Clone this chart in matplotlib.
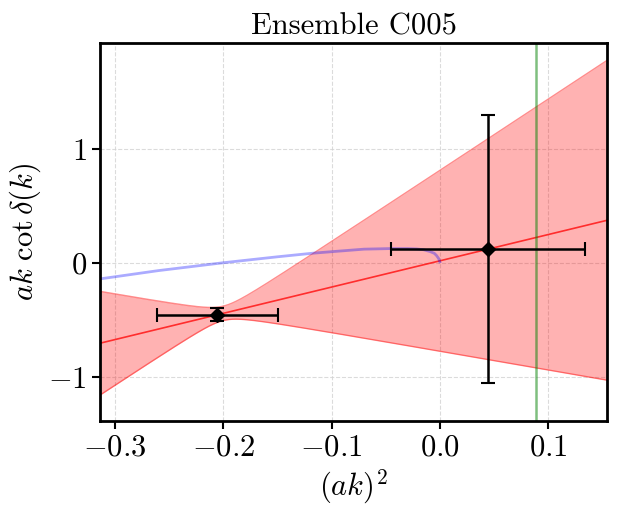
import numpy as np
import matplotlib
matplotlib.use("Agg")
import matplotlib.pyplot as plt

plt.rcParams["font.family"] = "serif"
plt.rcParams["font.serif"] = ["cmr10"]
plt.rcParams["mathtext.fontset"] = "cm"
plt.rcParams["axes.formatter.use_mathtext"] = True

# data points: (ak)^2 and ak cot delta with errors
k2 = np.array([-0.2056, 0.0446])
k2_err = np.array([0.0557, 0.0899])
kcot = np.array([-0.452, 0.124])
kcot_err = np.array([0.059, 1.176])

# linear fit  y = a + b x  and its covariance
fit_a = 0.0206
fit_b = 2.30
fit_cov = np.array([[0.628, 3.12],
                    [3.12, 15.6]])

# blue curve
curve_x = np.array([-0.315, -0.26, -0.20, -0.15, -0.118, -0.093, -0.07,
                    -0.046, -0.03, -0.0215, -0.015, -0.009, -0.005,
                    -0.003, -0.001, 0.0])
curve_y = np.array([-0.139, -0.065, 0.004, 0.056, 0.087, 0.106, 0.123,
                    0.128, 0.128, 0.125, 0.118, 0.102, 0.086,
                    0.067, 0.040, 0.012])

k2_line = 0.0893  # green vertical line

xlim = (-0.314, 0.1545)
ylim = (-1.384, 1.93)

fig = plt.figure(figsize=(6.23, 5.11), dpi=100)
ax = fig.add_axes([0.1605, 0.176, 0.8138, 0.7398])

x = np.linspace(xlim[0], xlim[1], 400)
y = fit_a + fit_b*x
sig = np.sqrt(fit_cov[0, 0] + 2*x*fit_cov[0, 1] + x**2*fit_cov[1, 1])
ax.fill_between(x, y - sig, y + sig, color="red", alpha=0.3, lw=0)
ax.plot(x, y - sig, color="red", alpha=0.45, lw=1)
ax.plot(x, y + sig, color="red", alpha=0.45, lw=1)
ax.plot(x, y, color="red", alpha=0.75, lw=1.2)

ax.plot(curve_x, curve_y, color="blue", alpha=0.33, lw=2)
ax.axvline(k2_line, color="green", alpha=0.5, lw=1.8)

ax.errorbar(k2, kcot, xerr=k2_err, yerr=kcot_err, fmt="D", color="black",
            ms=7, capsize=5, elinewidth=1.8, capthick=1.5)

ax.set_xlim(*xlim)
ax.set_ylim(*ylim)
ax.set_xticks([-0.3, -0.2, -0.1, 0.0, 0.1])
ax.set_yticks([-1, 0, 1])
ax.grid(True, ls="--", color="lightgray", alpha=0.8, lw=0.8)
ax.set_axisbelow(True)
for s in ax.spines.values():
    s.set_linewidth(2)
ax.tick_params(labelsize=22, width=1.5, length=6)

ax.set_xlabel(r"$(ak)^2$", fontsize=22)
ax.set_ylabel(r"$ak\ \cot\delta(k)$", fontsize=22)
ax.set_title("Ensemble C005", fontsize=22)

fig.savefig("out.png", dpi=100)
